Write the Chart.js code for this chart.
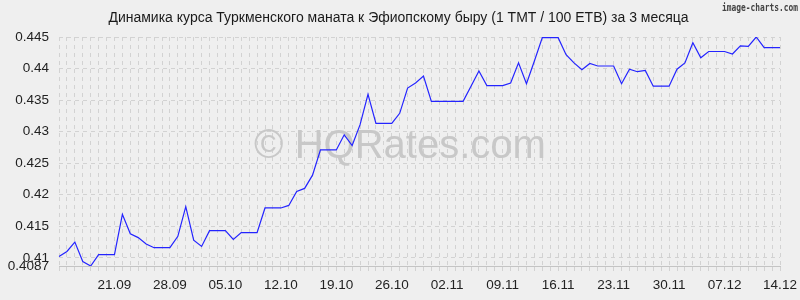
<!DOCTYPE html>
<html>
<head>
<meta charset="utf-8">
<script src="https://cdn.jsdelivr.net/npm/chart.js@4"></script>
<style>
  body { margin: 0; background: #efefef; }
  #grafico { display: block; }
</style>
</head>
<body>
<canvas id="grafico" width="800" height="300"></canvas>
<script>
// dias de 14.09 a 14.12
const datas = [
  '14.09','15.09','16.09','17.09','18.09','19.09','20.09','21.09','22.09','23.09','24.09','25.09','26.09','27.09','28.09','29.09','30.09',
  '01.10','02.10','03.10','04.10','05.10','06.10','07.10','08.10','09.10','10.10','11.10','12.10','13.10','14.10','15.10','16.10',
  '17.10','18.10','19.10','20.10','21.10','22.10','23.10','24.10','25.10','26.10','27.10','28.10','29.10','30.10','31.10',
  '01.11','02.11','03.11','04.11','05.11','06.11','07.11','08.11','09.11','10.11','11.11','12.11','13.11','14.11','15.11',
  '16.11','17.11','18.11','19.11','20.11','21.11','22.11','23.11','24.11','25.11','26.11','27.11','28.11','29.11','30.11',
  '01.12','02.12','03.12','04.12','05.12','06.12','07.12','08.12','09.12','10.12','11.12','12.12','13.12','14.12'
];

// курс TMT/ETB (за 100 ETB)
const cotacoes = [
  0.4102, 0.4110, 0.4125, 0.4094, 0.4087, 0.4105, 0.4105, 0.4105, 0.4169, 0.4138,
  0.4132, 0.4122, 0.4116, 0.4116, 0.4116, 0.4134, 0.4181, 0.4128, 0.4118, 0.4143,
  0.4143, 0.4143, 0.4129, 0.4140, 0.4140, 0.4140, 0.4179, 0.4179, 0.4179, 0.4183,
  0.4205, 0.4210, 0.4231, 0.4271, 0.4271, 0.4271, 0.4295, 0.4278, 0.4311, 0.4359,
  0.4313, 0.4313, 0.4313, 0.4329, 0.4369, 0.4377, 0.4388, 0.4348, 0.4348, 0.4348,
  0.4348, 0.4348, 0.4372, 0.4396, 0.4373, 0.4373, 0.4373, 0.4377, 0.4409, 0.4376,
  0.4412, 0.4449, 0.4449, 0.4449, 0.4422, 0.4409, 0.4398, 0.4408, 0.4404, 0.4404,
  0.4404, 0.4376, 0.4399, 0.4395, 0.4397, 0.4372, 0.4372, 0.4372, 0.4399, 0.4409,
  0.4441, 0.4417, 0.4427, 0.4427, 0.4427, 0.4423, 0.4436, 0.4435, 0.4450, 0.4433,
  0.4433, 0.4433
];

const rotulosX = ['21.09','28.09','05.10','12.10','19.10','26.10','02.11','09.11','16.11','23.11','30.11','07.12','14.12'];
const rotulosY = [0.4087, 0.41, 0.415, 0.42, 0.425, 0.43, 0.435, 0.44, 0.445];

const titulo = 'Динамика курса Туркменского маната к Эфиопскому быру (1 TMT / 100 ETB) за 3 месяца';
const marcaDagua = '© HQRates.com';
const marcaTopo = 'image-charts.com';

const fonte = "'Liberation Sans', Arial, sans-serif";

// titulo e marcas d'agua
const pluginMarcas = {
  id: 'marcas',
  beforeDatasetsDraw(chart) {
    const ctx = chart.ctx;
    ctx.save();
    ctx.fillStyle = '#c8c8c8';
    ctx.font = '40px ' + fonte;
    ctx.textAlign = 'center';
    ctx.textBaseline = 'middle';
    ctx.fillText(marcaDagua, 400, 147);
    ctx.restore();
  },
  afterDraw(chart) {
    const ctx = chart.ctx;
    ctx.save();
    ctx.fillStyle = '#1a1a1a';
    ctx.font = '14px ' + fonte;
    ctx.textAlign = 'center';
    ctx.textBaseline = 'middle';
    ctx.fillText(titulo, 398.5, 18);

    ctx.fillStyle = '#444';
    ctx.font = "bold 11px 'DejaVu Sans Mono', monospace";
    ctx.textAlign = 'left';
    const w = ctx.measureText(marcaTopo).width;
    ctx.translate(722, 8);
    ctx.scale(76 / w, 1);
    ctx.fillText(marcaTopo, 0, 0);
    ctx.restore();
  }
};

const gradeCor = '#d2d2d2';

new Chart(document.getElementById('grafico'), {
  type: 'line',
  data: {
    labels: datas,
    datasets: [{
      data: cotacoes,
      borderColor: '#2424ff',
      borderWidth: 1.2,
      pointRadius: 0,
      tension: 0,
      fill: false
    }]
  },
  options: {
    responsive: false,
    animation: false,
    layout: { padding: { left: 0, right: 20, top: 37, bottom: 0 } },
    plugins: {
      legend: { display: false },
      tooltip: { enabled: false },
      title: { display: false }
    },
    scales: {
      x: {
        offset: false,
        grid: { color: gradeCor, tickLength: 8, tickBorderDash: [4, 4] },
        border: { display: true, color: '#c4c4c4', dash: [4, 4] },
        ticks: {
          autoSkip: false,
          maxRotation: 0,
          color: '#222',
          padding: 3,
          font: { family: fonte, size: 13.5 },
          callback: (v, i) => rotulosX.includes(datas[i]) ? datas[i] : ''
        },
        afterFit: s => { s.height = 34; }
      },
      y: {
        min: 0.4087,
        max: 0.445,
        grid: { color: gradeCor, drawTicks: false },
        border: { display: false, dash: [4, 4] },
        ticks: {
          autoSkip: false,
          color: '#222',
          padding: 10,
          font: { family: fonte, size: 13.5 },
          callback: v => String(v)
        },
        afterBuildTicks: s => { s.ticks = rotulosY.map(v => ({ value: v })); },
        afterFit: s => { s.width = 59; }
      }
    }
  },
  plugins: [pluginMarcas]
});
</script>
</body>
</html>
